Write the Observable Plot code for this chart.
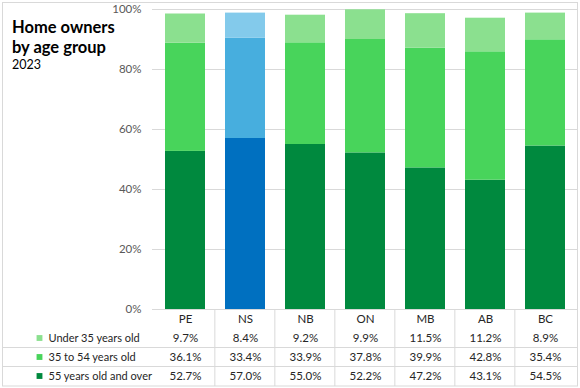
<!DOCTYPE html>
<html><head><meta charset="utf-8">
<script src="https://cdn.jsdelivr.net/npm/d3@7"></script>
<script src="https://cdn.jsdelivr.net/npm/@observablehq/plot@0.6"></script>
<style>
body{margin:0;background:#fff;font-family:Lato,"Noto Sans",sans-serif;}
#wrap{position:relative;width:580px;height:388px;}
#title{position:absolute;left:12px;top:17px;font-weight:bold;font-size:16.5px;line-height:20px;color:#000;}
#sub{position:absolute;left:12px;top:57px;font-size:12.5px;line-height:15px;color:#000;}
</style></head><body>
<div id="wrap"><div id="chart"></div><div id="title">Home owners<br>by age group</div><div id="sub">2023</div></div>
<script>
const provinces = ["PE","NS","NB","ON","MB","AB","BC"];
const groups = ["Under 35 years old","35 to 54 years old","55 years old and over"];
const under35 = [9.7,8.4,9.2,9.9,11.5,11.2,8.9];
const age35to54 = [36.1,33.4,33.9,37.8,39.9,42.8,35.4];
const age55plus = [52.7,57.0,55.0,52.2,47.2,43.1,54.5];
const yTicks = [0,20,40,60,80,100];
const greens = ["#8be08f","#48d45b","#00893e"];
const blues = ["#83caeb","#47aede","#0070c0"];
const highlight = "NS";

const series = [under35, age35to54, age55plus];
const rows = [];
// bottom of stack first: 55+, then 35-54, then under 35
[2,1,0].forEach(g => {
  provinces.forEach((p,i) => {
    rows.push({province:p, group:groups[g], value:series[g][i],
      color:(p===highlight?blues:greens)[g]});
  });
});
const fmt = v => v.toFixed(1) + "%";
const rowDy = [28.5, 47.5, 66.5];
const txtColor = "#262626";

const tableMarks = [];
groups.forEach((g, gi) => {
  tableMarks.push(Plot.text(provinces, {x: d=>d, y: ()=>0, dy: rowDy[gi],
    text: (d,i) => fmt(series[gi][i]), fill: txtColor, fontSize: 11.5}));
  tableMarks.push(Plot.text([g], {frameAnchor:"left", y: ()=>0, dy: rowDy[gi], dx:-104,
    textAnchor:"start", text: d=>d, fill: txtColor, fontSize: 11}));
  tableMarks.push(Plot.dot([g], {frameAnchor:"left", y: ()=>0, dy: rowDy[gi], dx:-113,
    symbol:"square", r:3.3, fill: greens[gi], stroke:"none"}));
});

const plot = Plot.plot({
  width: 580, height: 388,
  marginLeft: 152, marginRight: 2.5, marginTop: 9, marginBottom: 79,
  style: {fontFamily: 'Lato, "Noto Sans", sans-serif', fontSize: "11.5px", background: "transparent"},
  x: {domain: provinces, paddingInner: 0.33, paddingOuter: 0.165, axis: null},
  y: {domain: [0,100], axis: null},
  color: {type: "identity"},
  marks: [
    Plot.ruleY(yTicks, {stroke: "#d9d9d9", strokeWidth: 1}),
    Plot.barY(rows, {x: "province", y: "value", z: "group", fill: "color"}),
    Plot.axisY(yTicks, {tickFormat: d => d + "%", tickSize: 0, tickPadding: 11, fill: "#595959", fontSize: 11.5, label: null}),
    Plot.text(provinces, {x: d=>d, y: ()=>0, dy: 10, text: d=>d, fill: txtColor, fontSize: 11.5}),
    ...tableMarks
  ]
});
document.getElementById("chart").appendChild(plot);

const svg = d3.select(plot);
const xs = plot.scale("x");
const bw = xs.bandwidth, step = bw / (1 - 0.33);
const g = svg.append("g").attr("stroke", "#d9d9d9").attr("fill", "none");
provinces.slice(0, -1).forEach(p => {
  const bx = xs.apply(p) + bw + (step - bw) / 2;
  g.append("line").attr("x1", bx).attr("x2", bx).attr("y1", 309).attr("y2", 386);
});
[347.5, 366.5].forEach(yy => g.append("line").attr("x1", 3).attr("x2", 577.5).attr("y1", yy).attr("y2", yy));
g.append("rect").attr("x", 2.5).attr("y", 2.5).attr("width", 575).attr("height", 383.5);
</script></body></html>
